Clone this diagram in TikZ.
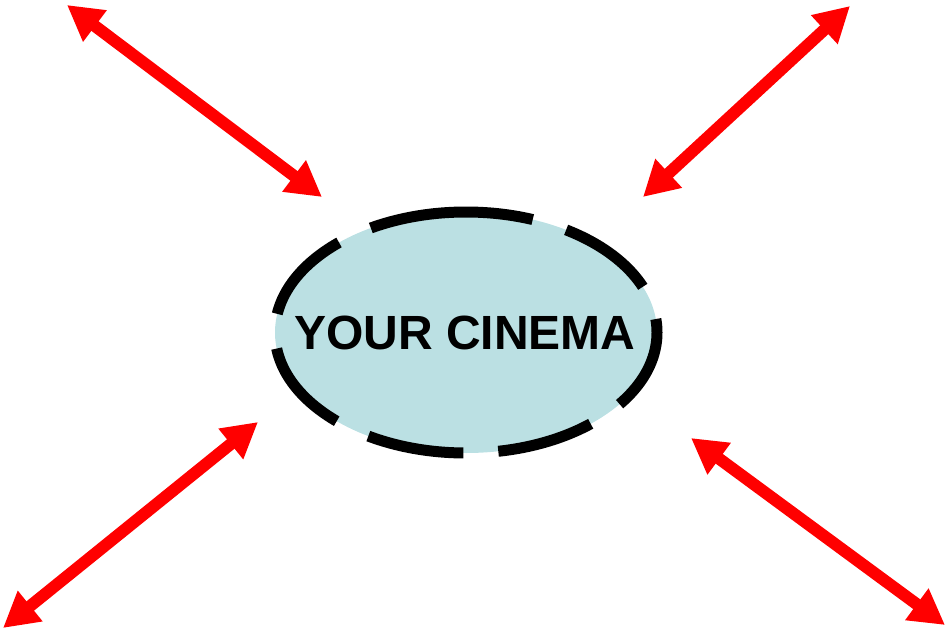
\documentclass[tikz,border=0pt]{standalone}
\usepackage{fontspec}
\setmainfont{Liberation Sans}
\usetikzlibrary{arrows.meta,shapes.geometric}
\definecolor{cinemafill}{HTML}{BBE0E3}
\definecolor{arrowred}{HTML}{FF0000}
\tikzset{
  dblarrow/.style={draw=arrowred, line width=12pt,
    {Triangle[length=35pt,width=37pt]}-{Triangle[length=35pt,width=37pt]}},
  cinema/.style={ellipse, draw=none, fill=cinemafill,
    minimum width=382pt, minimum height=241pt, inner sep=0pt,
    font=\fontsize{48}{56}\selectfont\bfseries},
  ring/.style={draw=black, line width=11pt, line cap=butt,
    dash pattern=on 97pt off 35pt}
}
\begin{document}
\begin{tikzpicture}[x=1pt,y=-1pt]
\useasboundingbox (0,0) rectangle (948,634);
\node[cinema] (c) at (466,332.5) {\makebox[0pt]{\hspace{-2pt}YOUR CINEMA}};
\draw[ring] (c.center) ++(0,-120.5)
  arc[start angle=-90, end angle=-450, x radius=191, y radius=120.5];
\coordinate (a1) at (67,5);   \coordinate (b1) at (322,197);
\coordinate (a2) at (850,6);  \coordinate (b2) at (643,197);
\coordinate (a3) at (258,422); \coordinate (b3) at (3,628);
\coordinate (a4) at (691,438); \coordinate (b4) at (945,625);
\draw[dblarrow] (a1) -- (b1);
\draw[dblarrow] (a2) -- (b2);
\draw[dblarrow] (a3) -- (b3);
\draw[dblarrow] (a4) -- (b4);
\end{tikzpicture}
\end{document}
